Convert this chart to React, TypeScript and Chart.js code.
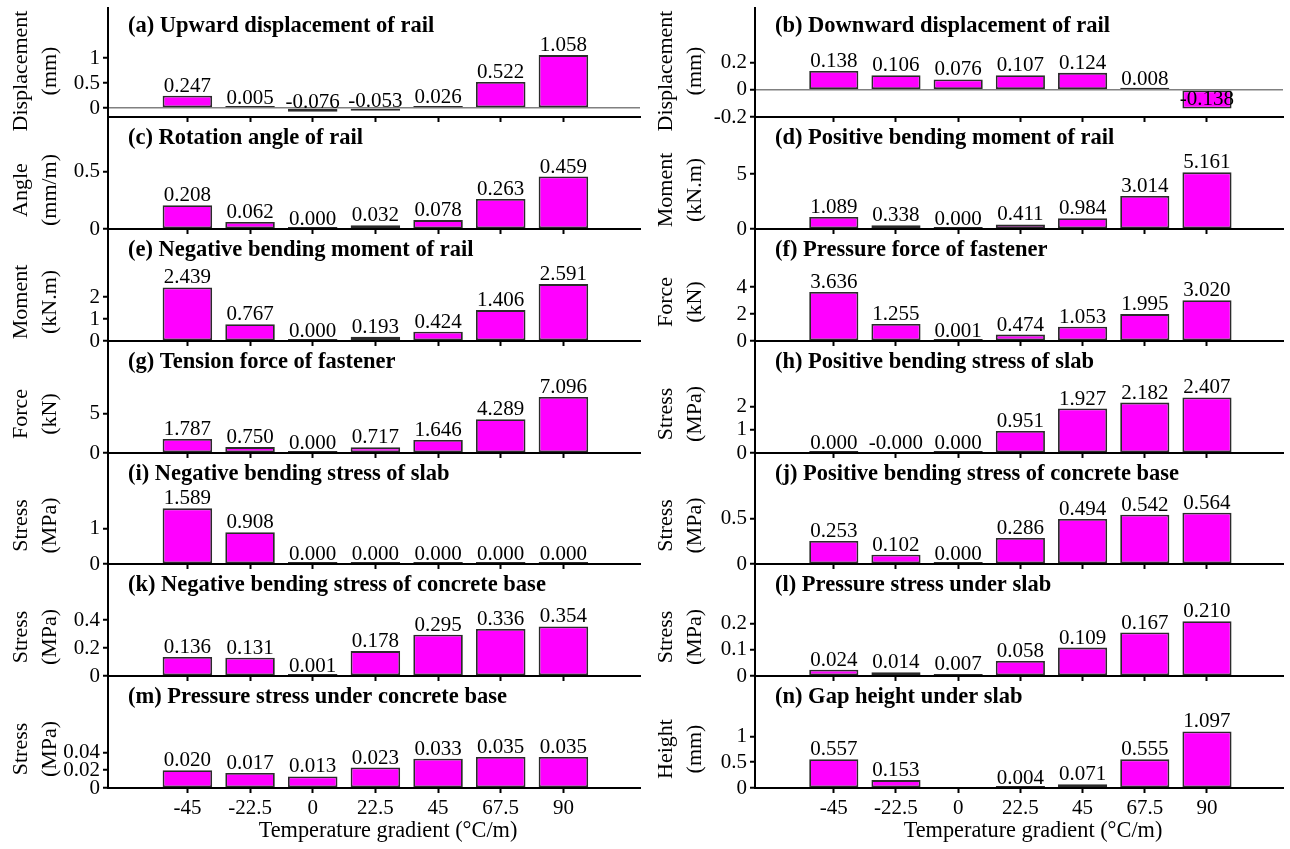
import React, { useEffect, useRef } from "react";
import { Chart, registerables } from "chart.js";

Chart.register(...registerables);

// ---------- data ----------
const gradients = [-45, -22.5, 0, 22.5, 45, 67.5, 90];
const gradientTickLabels = ["-45", "-22.5", "0", "22.5", "45", "67.5", "90"];
const xAxisTitle = "Temperature gradient (°C/m)";

const upwardDisplacement = [0.247, 0.005, -0.076, -0.053, 0.026, 0.522, 1.058];
const downwardDisplacement = [0.138, 0.106, 0.076, 0.107, 0.124, 0.008, -0.138];
const rotationAngle = [0.208, 0.062, 0.0, 0.032, 0.078, 0.263, 0.459];
const positiveMomentRail = [1.089, 0.338, 0.0, 0.411, 0.984, 3.014, 5.161];
const negativeMomentRail = [2.439, 0.767, 0.0, 0.193, 0.424, 1.406, 2.591];
const fastenerPressure = [3.636, 1.255, 0.001, 0.474, 1.053, 1.995, 3.02];
const fastenerTension = [1.787, 0.75, 0.0, 0.717, 1.646, 4.289, 7.096];
const positiveStressSlab = [0.0, -0.0001, 0.0, 0.951, 1.927, 2.182, 2.407];
const negativeStressSlab = [1.589, 0.908, 0.0, 0.0, 0.0, 0.0, 0.0];
const positiveStressBase = [0.253, 0.102, 0.0, 0.286, 0.494, 0.542, 0.564];
const negativeStressBase = [0.136, 0.131, 0.001, 0.178, 0.295, 0.336, 0.354];
const pressureUnderSlab = [0.024, 0.014, 0.007, 0.058, 0.109, 0.167, 0.21];
const pressureUnderBase = [0.02, 0.017, 0.013, 0.023, 0.033, 0.035, 0.035];
const gapHeight = [0.557, 0.153, null, 0.004, 0.071, 0.555, 1.097];

const panelTitles = [
  "(a) Upward displacement of rail",
  "(b) Downward displacement of rail",
  "(c) Rotation angle of rail",
  "(d) Positive bending moment of rail",
  "(e) Negative bending moment of rail",
  "(f) Pressure force of fastener",
  "(g) Tension force of fastener",
  "(h) Positive bending stress of slab",
  "(i) Negative bending stress of slab",
  "(j) Positive bending stress of concrete base",
  "(k) Negative bending stress of concrete base",
  "(l) Pressure stress under slab",
  "(m) Pressure stress under concrete base",
  "(n) Gap height under slab",
];
const yTitles = [
  ["Displacement", "(mm)"],
  ["Displacement", "(mm)"],
  ["Angle", "(mm/m)"],
  ["Moment", "(kN.m)"],
  ["Moment", "(kN.m)"],
  ["Force", "(kN)"],
  ["Force", "(kN)"],
  ["Stress", "(MPa)"],
  ["Stress", "(MPa)"],
  ["Stress", "(MPa)"],
  ["Stress", "(MPa)"],
  ["Stress", "(MPa)"],
  ["Stress", "(MPa)"],
  ["Height", "(mm)"],
];
const panelValues = [
  upwardDisplacement, downwardDisplacement, rotationAngle, positiveMomentRail,
  negativeMomentRail, fastenerPressure, fastenerTension, positiveStressSlab,
  negativeStressSlab, positiveStressBase, negativeStressBase, pressureUnderSlab,
  pressureUnderBase, gapHeight,
];
const yMins = [-0.18, -0.2, 0, 0, 0, 0, 0, 0, 0, 0, 0, 0, 0, 0];
const yMaxs = [2.0, 0.6, 0.98, 10.2, 5.1, 8.3, 14.2, 4.85, 3.17, 1.22, 0.8, 0.43, 0.126, 2.17];
const yTickValues = [
  [0, 0.5, 1], [-0.2, 0, 0.2], [0, 0.5], [0, 5], [0, 1, 2], [0, 2, 4], [0, 5],
  [0, 1, 2], [0, 1], [0, 0.5], [0, 0.2, 0.4], [0, 0.1, 0.2], [0, 0.02, 0.04], [0, 0.5, 1],
];

// ---------- layout ----------
const FONT = "Liberation Serif";
const ROW_TOPS = [8, 117, 229, 341, 453, 564, 676];
const ROW_BOTTOMS = [117, 229, 341, 453, 564, 676, 788];
const PAGE_H = 849;

function Panel({ index }: { index: number }) {
  const ref = useRef<HTMLCanvasElement | null>(null);
  const col = index % 2;
  const row = Math.floor(index / 2);
  const isBottom = row === 6;
  const left = col === 0 ? 0 : 645;
  const yW = col === 0 ? 108 : 110;
  const padR = col === 0 ? 5 : 7;
  const padTop = 6;
  const padBottom = isBottom ? 0 : 24;
  const chartTop = ROW_TOPS[row];
  const chartBottom = ROW_BOTTOMS[row];
  const xH = isBottom ? PAGE_H - chartBottom : 8;
  const canvasTop = chartTop - padTop;
  const height = chartBottom - canvasTop + xH + padBottom;
  const values = panelValues[index];
  const title = panelTitles[index];
  const zeroLine = yMins[index] < 0;

  useEffect(() => {
    if (!ref.current) return;
    const textPlugin = {
      id: "panelText" + index,
      afterDatasetsDraw(chart: any) {
        const ctx = chart.ctx;
        const area = chart.chartArea;
        const meta = chart.getDatasetMeta(0);
        const ys = chart.scales.y;
        ctx.save();
        ctx.fillStyle = "#000";
        // value labels
        ctx.font = `21px "${FONT}"`;
        ctx.textAlign = "center";
        ctx.textBaseline = "alphabetic";
        meta.data.forEach((bar: any, i: number) => {
          const v = values[i];
          if (v === null || v === undefined) return;
          ctx.fillText(v.toFixed(3), bar.x, ys.getPixelForValue(v) - 4);
        });
        // panel title
        ctx.font = `bold 22.5px "${FONT}"`;
        ctx.textAlign = "left";
        ctx.fillText(title, area.left + 20, area.top + (row === 0 ? 24 : 27));
        // y-axis title (two lines, rotated)
        const cy = row === 0 ? area.top + 63 : (area.top + area.bottom) / 2 + 17;
        ctx.font = `22px "${FONT}"`;
        ctx.textAlign = "center";
        ctx.textBaseline = "middle";
        const lineXs = [21.5, 50];
        yTitles[index].forEach((t, li) => {
          ctx.save();
          ctx.translate(lineXs[li], cy);
          ctx.rotate(-Math.PI / 2);
          ctx.fillText(t, 0, 0);
          ctx.restore();
        });
        // x-axis title
        if (isBottom) {
          ctx.font = `22.3px "${FONT}"`;
          ctx.textBaseline = "alphabetic";
          ctx.fillText(xAxisTitle, (area.left + area.right) / 2 + 14, area.bottom + 49);
        }
        ctx.restore();
      },
    };

    const chart = new Chart(ref.current, {
      type: "bar",
      data: {
        datasets: [
          {
            data: gradients.map((g, i) => ({ x: g, y: values[i] as any })),
            backgroundColor: "#FF00FF",
            borderColor: "#2b2b2b",
            borderWidth: 1.8,
            borderSkipped: false,
            minBarLength: 2,
            barPercentage: 0.79,
            categoryPercentage: 1,
          } as any,
        ],
      },
      options: {
        responsive: false,
        animation: false,
        devicePixelRatio: 1,
        layout: { padding: { top: padTop, right: padR, left: 0, bottom: padBottom } },
        plugins: {
          legend: { display: false },
          tooltip: { enabled: false },
          title: { display: false },
        },
        scales: {
          x: {
            type: "linear",
            min: -73.5,
            max: 117.5,
            offset: false,
            afterBuildTicks: (s: any) => {
              s.ticks = gradients.map((v) => ({ value: v }));
            },
            afterFit: (s: any) => {
              s.height = xH;
              s.paddingLeft = 0;
              s.paddingRight = 0;
            },
            grid: {
              display: true,
              drawOnChartArea: false,
              drawTicks: true,
              tickLength: 5,
              tickWidth: 2,
              tickColor: "#000",
              offset: false,
            },
            border: { display: true, color: "#000", width: 2 },
            ticks: {
              display: isBottom,
              autoSkip: false,
              maxRotation: 0,
              minRotation: 0,
              padding: 3,
              color: "#000",
              font: { family: FONT, size: 21 },
              callback: (_v: any, i: number) => gradientTickLabels[i],
            },
            title: { display: false },
          } as any,
          y: {
            type: "linear",
            min: yMins[index],
            max: yMaxs[index],
            afterBuildTicks: (s: any) => {
              s.ticks = yTickValues[index].map((v) => ({ value: v }));
            },
            afterFit: (s: any) => {
              s.width = yW;
              s.paddingTop = 0;
              s.paddingBottom = 0;
            },
            grid: {
              display: true,
              drawOnChartArea: zeroLine,
              color: (c: any) =>
                c.tick && c.tick.value === 0 ? "#808080" : "rgba(0,0,0,0)",
              lineWidth: 1.5,
              drawTicks: true,
              tickLength: 5,
              tickWidth: 2,
              tickColor: "#000",
            },
            border: { display: true, color: "#000", width: 2 },
            ticks: {
              autoSkip: false,
              padding: 3,
              color: "#000",
              font: { family: FONT, size: 21 },
              callback: (v: any) => String(v),
            },
            title: { display: false },
          } as any,
        },
      } as any,
      plugins: [textPlugin],
    });
    return () => chart.destroy();
  }, []);

  return (
    <canvas
      ref={ref}
      width={645}
      height={height}
      style={{ position: "absolute", left, top: canvasTop, width: 645, height }}
    />
  );
}

export default function App() {
  return (
    <div
      style={{
        position: "absolute",
        left: 0,
        top: 0,
        width: 1290,
        height: PAGE_H,
        background: "#fff",
        overflow: "hidden",
      }}
    >
      {panelValues.map((_, i) => (
        <Panel key={i} index={i} />
      ))}
    </div>
  );
}
